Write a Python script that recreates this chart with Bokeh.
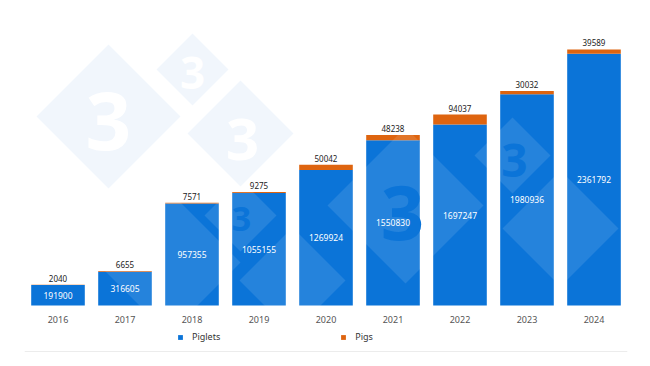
from bokeh.plotting import figure
from bokeh.models import (ColumnDataSource, FactorRange, Range1d, LabelSet, Legend,
                          LegendItem, PolyAnnotation, Label, Span)
from bokeh.core.properties import value
from bokeh.embed import file_html
from bokeh.resources import INLINE

years = ["2016", "2017", "2018", "2019", "2020", "2021", "2022", "2023", "2024"]
piglets = [191900, 316605, 957355, 1055155, 1269924, 1550830, 1697247, 1980936, 2361792]
pigs = [2040, 6655, 7571, 9275, 50042, 48238, 94037, 30032, 39589]

BLUE = "#0B74D8"
ORANGE = "#DE640F"
FONT = "Noto Sans"
UNIT = 9380  # value per pixel

src = ColumnDataSource(dict(
    year=years, Piglets=piglets, Pigs=pigs,
    total=[a + b for a, b in zip(piglets, pigs)],
    mid=[a / 2 for a in piglets],
    zero=[0] * len(years),
    plab=[str(v) for v in piglets], glab=[str(v) for v in pigs],
))

y0 = -47 * UNIT
p = figure(width=650, height=366, x_range=FactorRange(factors=years),
           y_range=Range1d(y0, 277 * UNIT), output_backend="svg", toolbar_location=None,
           x_axis_location=None, y_axis_location=None, min_border_left=24,
           min_border_right=23, min_border_top=28, min_border_bottom=14,
           outline_line_color=None)
p.xgrid.visible = False
p.ygrid.visible = False

rs = p.vbar_stack(["Piglets", "Pigs"], x="year", width=0.8, source=src,
                  color=[BLUE, ORANGE], line_color=None)

# watermark (decorative)
PALE = ("#AAC8EB", 0.17)
SOFT = ("white", 0.11)
marks = [((108, 116), 72, PALE), ((192, 69), 36, PALE), ((240, 133), 53, PALE),
         ((168, 262), 72, SOFT), ((240, 215), 36, SOFT), ((292, 280), 53, SOFT),
         ((405, 205), 78, SOFT), ((512, 155), 38, SOFT), ((560, 228), 58, SOFT)]
for (cx, cy), h, (fc, fa) in marks:
    p.add_layout(PolyAnnotation(xs=[cx - h, cx, cx + h, cx], ys=[cy, cy - h, cy, cy + h],
                                xs_units="canvas", ys_units="canvas",
                                fill_color=fc, fill_alpha=fa, line_color=None))
threes = [((108, 120), 80, "white"), ((192, 72), 44, "white"), ((242, 139), 58, "white"),
          ((402, 212), 76, BLUE), ((514, 160), 46, BLUE), ((241, 218), 34, BLUE)]
for (cx, cy), fs, col in threes:
    p.add_layout(Label(x=cx, y=cy, x_units="canvas", y_units="canvas", text="3",
                       text_font=FONT, text_font_style="bold", text_font_size=f"{fs}px",
                       text_color=col, text_align="center", text_baseline="middle"))

p.add_layout(LabelSet(x="year", y="mid", text="plab", source=src, text_align="center",
                      text_baseline="middle", text_color="white", text_font=value(FONT),
                      text_font_size="8.5px"))
p.add_layout(LabelSet(x="year", y="total", text="glab", source=src, text_align="center",
                      text_baseline="bottom", y_offset=3, text_color="#222222",
                      text_font=value(FONT), text_font_size="8px"))
# category labels under the bars
p.add_layout(LabelSet(x="year", y="zero", text="year", source=src, text_align="center",
                      text_baseline="middle", y_offset=-14, text_color="#555555",
                      text_font=value(FONT), text_font_size="9px"))

legend = Legend(items=[LegendItem(label="Piglets", renderers=[rs[0]]),
                       LegendItem(label="Pigs", renderers=[rs[1]])],
                orientation="horizontal", location=(153, 9), glyph_width=6, glyph_height=6,
                label_standoff=9, spacing=120, padding=0, margin=0,
                border_line_color=None, background_fill_alpha=0,
                label_text_font=FONT, label_text_font_size="9px",
                label_text_color="#333333", label_height=10)
p.add_layout(legend)

p.add_layout(Span(location=y0 + UNIT, dimension="width", line_color="#ececec",
                  line_width=1))

open("out.html", "w").write(file_html(p, INLINE))
